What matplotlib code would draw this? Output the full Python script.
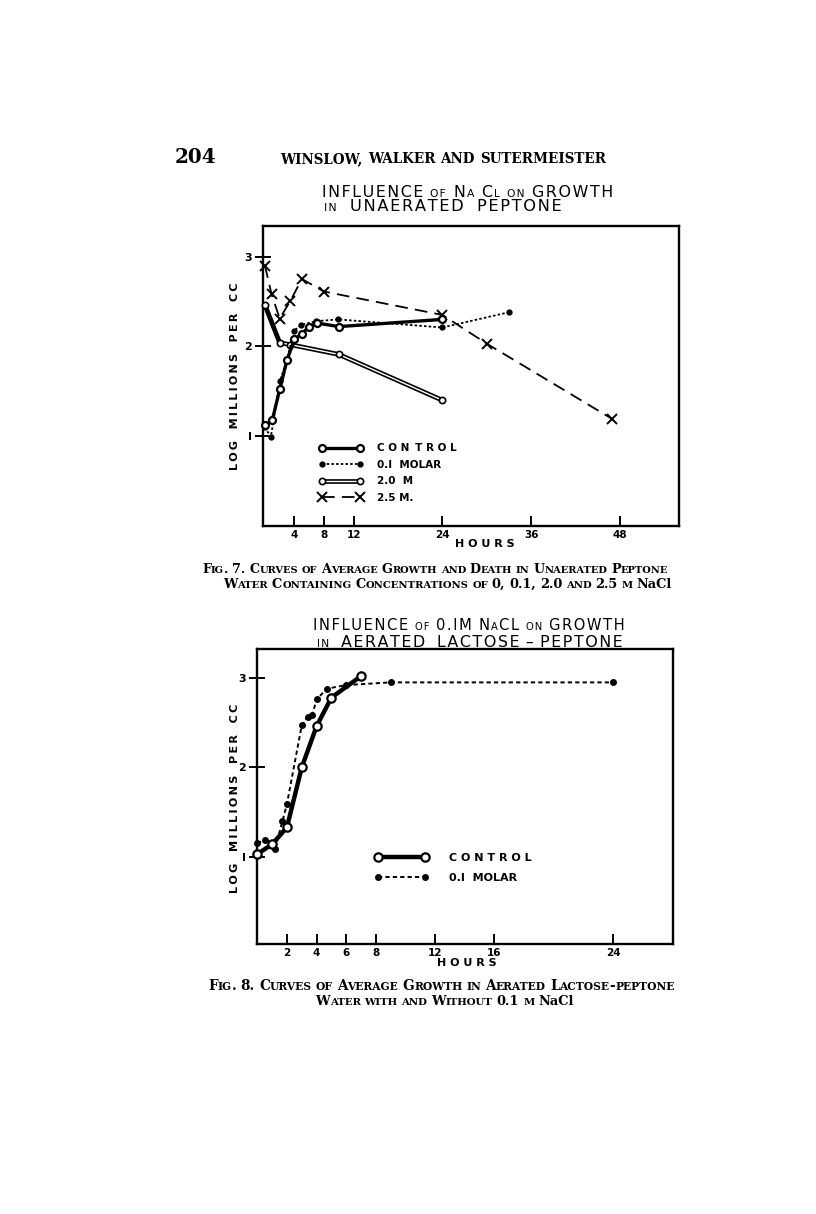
import matplotlib
matplotlib.use('Agg')
import matplotlib.pyplot as plt
from matplotlib.legend_handler import HandlerTuple

# ---- data: Fig. 7 (unaerated peptone) ----
ctrl7_h = [0, 1, 2, 3, 4, 5, 6, 7, 10, 24]
ctrl7_v = [1.12, 1.18, 1.52, 1.85, 2.08, 2.14, 2.22, 2.26, 2.22, 2.30]
m01_7_h = [0, 0.8, 2, 3, 3.9, 4.9, 6.9, 9.9, 24, 33]
m01_7_v = [1.10, 0.99, 1.61, 1.85, 2.17, 2.24, 2.28, 2.30, 2.21, 2.38]
m20_h = [0, 2, 3.4, 10, 24]
m20_v = [2.46, 2.04, 2.02, 1.91, 1.40]
m25_h = [0, 0.9, 2, 3.4, 5, 8, 24, 30, 47]
m25_v = [2.90, 2.58, 2.31, 2.50, 2.75, 2.61, 2.35, 2.03, 1.19]
xticks7 = [4, 8, 12, 24, 36, 48]

# ---- data: Fig. 8 (aerated lactose-peptone) ----
ctrl8_h = [0, 1, 2, 3, 4, 5, 7]
ctrl8_v = [1.03, 1.14, 1.33, 2.00, 2.46, 2.78, 3.02]
m01_8_h = [0, 0.5, 1.2, 1.7, 2, 3, 3.4, 3.7, 4, 4.7, 6, 9, 24]
m01_8_v = [1.15, 1.19, 1.09, 1.40, 1.59, 2.47, 2.56, 2.58, 2.76, 2.88, 2.92, 2.95, 2.95]
xticks8 = [2, 4, 6, 8, 12, 16, 24]
yticks = [1, 2, 3]
ylabels = ['I', '2', '3']

W, H = 816, 1214
fig = plt.figure(figsize=(W / 100, H / 100), dpi=100)
fig.patch.set_facecolor('white')
renderer = fig.canvas.get_renderer()
SANS = 'DejaVu Sans'
SERIF = 'DejaVu Serif'


def smallcaps(text, size, ratio=0.78, gap=3.0, keep=(), ls='', inner=0.0):
    toks = []
    words = text.split(' ')
    for wi, word in enumerate(words):
        groups = []
        if word in keep:
            groups = [[word, False]]
        else:
            for ch in word:
                small = ch.islower()
                c = ch.upper() if small else ch
                if groups and groups[-1][1] == small:
                    groups[-1][0] += c
                else:
                    groups.append([c, small])
        for gi, (s, small) in enumerate(groups):
            if gi == len(groups) - 1:
                g = gap if wi < len(words) - 1 else 0
            else:
                g = inner
            toks.append([ls.join(s), size * ratio if small else size, g])
    return toks


def place(tokens, x0, x1, base, family=SERIF, weight='bold'):
    arts = [fig.text(0, 0, t[0], fontsize=t[1], family=family, weight=weight,
                     va='baseline', ha='left') for t in tokens]
    for _ in range(2):
        ws = [a.get_window_extent(renderer).width for a in arts]
        total = sum(ws) + sum(t[2] * 100 / 72 for t in tokens)
        f = (x1 - x0) / total
        for a, t in zip(arts, tokens):
            t[1] *= f
            t[2] *= f
            a.set_fontsize(t[1])
    ws = [a.get_window_extent(renderer).width for a in arts]
    cx = x0
    for a, w, t in zip(arts, ws, tokens):
        a.set_position((cx / W, 1 - base / H))
        cx += w + t[2] * 100 / 72


def ylabel(y0, y1, x):
    s = '\u2009'.join('LOG') + '   ' + '\u2009'.join('MILLIONS') + '   ' + \
        '\u2009'.join('PER') + '   ' + '\u2009'.join('CC')
    t = fig.text(x / W, 1 - (y0 + y1) / 2 / H, s, rotation=90, fontsize=9,
                 family=SANS, weight='bold', ha='center', va='center')
    hgt = t.get_window_extent(renderer).height
    t.set_fontsize(9 * (y1 - y0) / hgt)


def frame(ax, xticks, ylim, xlim, ytl):
    ax.set_xlim(*xlim)
    ax.set_ylim(*ylim)
    for sp in ax.spines.values():
        sp.set_linewidth(1.7)
    ax.set_xticks(xticks)
    ax.set_xticklabels([str(t) for t in xticks], fontsize=7.5,
                       family=SANS, weight='bold')
    ax.set_yticks(yticks)
    ax.set_yticklabels(ylabels, fontsize=8, family=SANS, weight='bold')
    ax.tick_params(axis='x', direction='in', length=7, width=1.4, pad=3)
    ax.tick_params(axis='y', direction='inout', length=ytl, width=1.4, pad=2)


def title(text, x0, x1, base, gap=4):
    place(smallcaps(text, 11, ratio=0.68, gap=gap, ls='\u200a', inner=1.0),
          x0, x1, base, family=SANS, weight='normal')


# ---- header ----
place([['204', 11, 0]], 175, 217, 163)
place(smallcaps('WINSLOW, WALKER AND SUTERMEISTER', 10, gap=4), 280, 607, 163)

# ---- Fig. 7 ----
title('INFLUENCE of Na Cl on GROWTH', 322, 615, 197, gap=5)
title('in UNAERATED PEPTONE', 324, 561, 211, gap=9)

ax1 = fig.add_axes([262.7 / W, 1 - 526 / H, 416.3 / W, 300 / H])
frame(ax1, xticks7, (0.0, 3.34), (-0.3, 56), 12)
c1, = ax1.plot(ctrl7_h, ctrl7_v, '-', color='black', lw=2.4, marker='o', ms=5,
               mfc='white', mec='black', mew=1.6, clip_on=False, zorder=4)
d1, = ax1.plot(m01_7_h, m01_7_v, linestyle=(0, (1.4, 1.2)), color='black', lw=1.3,
               marker='o', ms=3.5, mfc='black', mec='black', clip_on=False, zorder=3)
b20, = ax1.plot(m20_h, m20_v, '-', color='black', lw=3.4, clip_on=False, zorder=2)
w20, = ax1.plot(m20_h, m20_v, '-', color='white', lw=1.0, clip_on=False, zorder=2.4)
# first stretch of the 2.0 M curve is drawn as one heavy stroke
ax1.plot(m20_h[:2], m20_v[:2], '-', color='black', lw=2.6, zorder=2.5, clip_on=False)
o20, = ax1.plot(m20_h, m20_v, 'o', ms=4.5, mfc='white', mec='black', mew=1.2,
                clip_on=False, zorder=2.6)
x25, = ax1.plot(m25_h, m25_v, linestyle=(0, (7, 4)), color='black', lw=1.3,
                marker='x', ms=7, mew=1.4, clip_on=False, zorder=3)
ax1.legend([c1, d1, (b20, w20, o20), x25],
           ['C O N\u2009 T R O L', '0.I  MOLAR', '2.0  M', '2.5 M.'],
           handler_map={tuple: HandlerTuple(ndivide=1)},
           loc='upper left', bbox_to_anchor=(0.135, 0.275), frameon=False,
           numpoints=2, handlelength=4.2, handletextpad=1.4, labelspacing=0.62,
           borderpad=0, borderaxespad=0,
           prop={'family': SANS, 'weight': 'bold', 'size': 7.5})
fig.text(485 / W, 1 - 544 / H, 'H O U R S', fontsize=8, family=SANS,
         weight='bold', ha='center', va='center')
ylabel(282, 470, 235)

place(smallcaps('Fig. 7. Curves of Average Growth and Death in Unaerated Peptone', 10),
      202, 670, 573)
place(smallcaps('Water Containing Concentrations of 0, 0.1, 2.0 and 2.5 m NaCl', 10,
                keep=('NaCl', '0,', '0.1,', '2.0', '2.5')),
      223, 672, 588)

# ---- Fig. 8 ----
title('INFLUENCE of 0.IM NaCL on GROWTH', 313, 625, 630, gap=5)
title('in AERATED LACTOSE\u2009–\u2009PEPTONE', 317, 622, 647, gap=8)

ax2 = fig.add_axes([257.3 / W, 1 - 944 / H, 416 / W, 294.7 / H])
frame(ax2, xticks8, (0.025, 3.32), (0, 28.07), 12)
c2, = ax2.plot(ctrl8_h, ctrl8_v, '-', color='black', lw=3.2, marker='o', ms=6,
               mfc='white', mec='black', mew=1.6, clip_on=False, zorder=4)
d2, = ax2.plot(m01_8_h, m01_8_v, linestyle=(0, (2.2, 1.6)), color='black', lw=1.4,
               marker='o', ms=4, mfc='black', mec='black', clip_on=False, zorder=3)
ax2.legend([c2, d2], ['C O N T R O L', '0.I  MOLAR'],
           loc='upper left', bbox_to_anchor=(0.283, 0.31), frameon=False,
           numpoints=2, handlelength=4.8, handletextpad=1.9, labelspacing=0.95,
           borderpad=0, borderaxespad=0,
           prop={'family': SANS, 'weight': 'bold', 'size': 8})
fig.text(467 / W, 1 - 963 / H, 'H O U R S', fontsize=8, family=SANS,
         weight='bold', ha='center', va='center')
ylabel(703, 893, 235)

place(smallcaps('Fig. 8. Curves of Average Growth in Aerated Lactose-peptone', 10),
      208, 675, 990)
place(smallcaps('Water with and Without 0.1 m NaCl', 10, keep=('NaCl', '0.1')),
      315, 575, 1005)

fig.savefig('out.png', dpi=100, facecolor='white')
